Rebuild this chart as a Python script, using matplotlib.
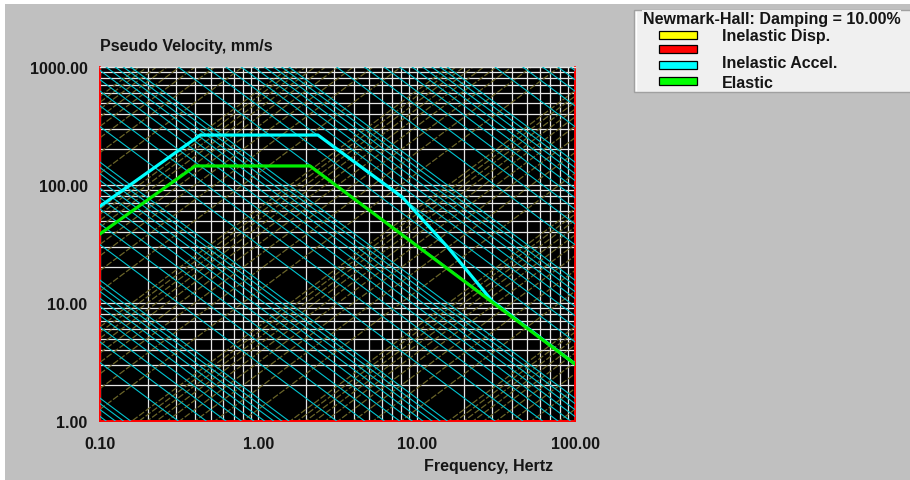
"""Newmark-Hall tripartite response spectrum (pseudo velocity vs frequency)."""

import matplotlib
matplotlib.use("Agg")
import matplotlib.pyplot as plt
from matplotlib.patches import Rectangle
import numpy as np

# ---- data ----
elastic_freq = [0.1, 0.40, 2.12, 100.0]
elastic_vel = [38.5, 145.0, 145.0, 3.04]

inel_accel_freq = [0.1, 0.43, 2.38, 8.1, 15.6, 30.0, 100.0]
inel_accel_vel = [66.0, 265.0, 265.0, 79.0, 30.0, 10.4, 3.04]

x_ticks = [0.1, 1.0, 10.0, 100.0]
y_ticks = [1.0, 10.0, 100.0, 1000.0]
multiples = [1, 2, 3, 4, 5, 6, 7, 8, 9]

legend_title = "Newmark-Hall: Damping = 10.00%"
legend_colors = ["#ffff00", "#ff0000", "#00ffff", "#00ff00"]
legend_labels = ["Inelastic Disp.", "Inelastic Accel.", "Elastic"]

FONT = ["Liberation Sans", "DejaVu Sans"]
TXT = "#151515"
W, H = 910, 481

fig = plt.figure(figsize=(W / 100, H / 100), dpi=100, facecolor="white")

# background layer in pixel coordinates
bg = fig.add_axes([0, 0, 1, 1])
bg.set_xlim(0, W)
bg.set_ylim(H, 0)
bg.axis("off")
bg.set_zorder(0)
bg.add_patch(Rectangle((5, 5), W, H, facecolor="#c0c0c0", edgecolor="none"))

# legend group box
bg.add_patch(Rectangle((634, 11), 290, 82, facecolor="#f0f0f0",
                       edgecolor="#a0a0a0", linewidth=1.0))
bg.plot([636, 636], [13, 91], color="white", lw=1)
bg.text(643, 24, legend_title, fontsize=11.5, fontweight="bold",
        family=FONT, color=TXT, va="baseline", ha="left",
        bbox=dict(facecolor="#f0f0f0", edgecolor="none", pad=0.5))
patch_tops = [32, 46, 62, 78]
for c, top in zip(legend_colors, patch_tops):
    bg.add_patch(Rectangle((659, top), 38, 8, facecolor=c,
                           edgecolor="black", linewidth=0.9))
for lab, base in zip(legend_labels, [41, 68, 88]):
    bg.text(722, base, lab, fontsize=11.5, fontweight="bold", family=FONT,
            color=TXT, va="baseline", ha="left")

bg.text(100, 51, "Pseudo Velocity, mm/s", fontsize=11.5, fontweight="bold",
        family=FONT, color=TXT, va="baseline", ha="left")
bg.text(553, 471, "Frequency, Hertz", fontsize=11.5, fontweight="bold",
        family=FONT, color=TXT, va="baseline", ha="right")

# main plot
ax = fig.add_axes([100 / W, 1 - 422 / H, 475 / W, 354 / H])
ax.set_zorder(1)
ax.set_facecolor("black")
ax.set_xscale("log")
ax.set_yscale("log")
ax.set_xlim(0.1, 100)
ax.set_ylim(1, 1000)

# horizontal / vertical grid at 1..9 x decades
for dec in [1, 10, 100]:
    for m in multiples:
        ax.axhline(m * dec, color="#e6e6e6", lw=0.9, zorder=1)
for dec in [0.1, 1, 10]:
    for m in multiples:
        ax.axvline(m * dec, color="#e6e6e6", lw=0.9, zorder=1)

f_ends = np.array([0.1, 100.0])
two_pi = 2 * np.pi

# constant displacement lines (mm), slope +1
for exp in range(-3, 3):
    for m in multiples:
        d = m * 10.0 ** exp
        ax.plot(f_ends, two_pi * f_ends * d, color="#6a6428", lw=0.9,
                dashes=(5, 1.5), zorder=2)

# constant acceleration lines (g), slope -1
g = 9806.65
for exp in range(-5, 3):
    for m in multiples:
        a = m * 10.0 ** exp * g
        ax.plot(f_ends, a / (two_pi * f_ends), color="#00c4d0", lw=0.8,
                zorder=3)

ax.plot(inel_accel_freq, inel_accel_vel, color="#00ffff", lw=2.3, zorder=5)
ax.plot(elastic_freq, elastic_vel, color="#00ee00", lw=2.3, zorder=6)

ax.set_xticks(x_ticks)
ax.set_yticks(y_ticks)
ax.set_xticklabels([f"{v:.2f}" for v in x_ticks])
ax.set_yticklabels([f"{v:.2f}" for v in y_ticks])
ax.minorticks_off()
ax.tick_params(length=0, labelsize=11.5, colors=TXT)
ax.tick_params(axis="x", pad=11)
ax.tick_params(axis="y", pad=9)
for lbl in ax.get_xticklabels() + ax.get_yticklabels():
    lbl.set_fontweight("bold")
    lbl.set_family(FONT)

for side in ["left", "bottom", "right"]:
    ax.spines[side].set_color("#ff0000")
    ax.spines[side].set_linewidth(1.4)
ax.spines["top"].set_color("#e6e6e6")
ax.spines["top"].set_linewidth(1.0)

fig.savefig("out.png", dpi=100, facecolor="white")
